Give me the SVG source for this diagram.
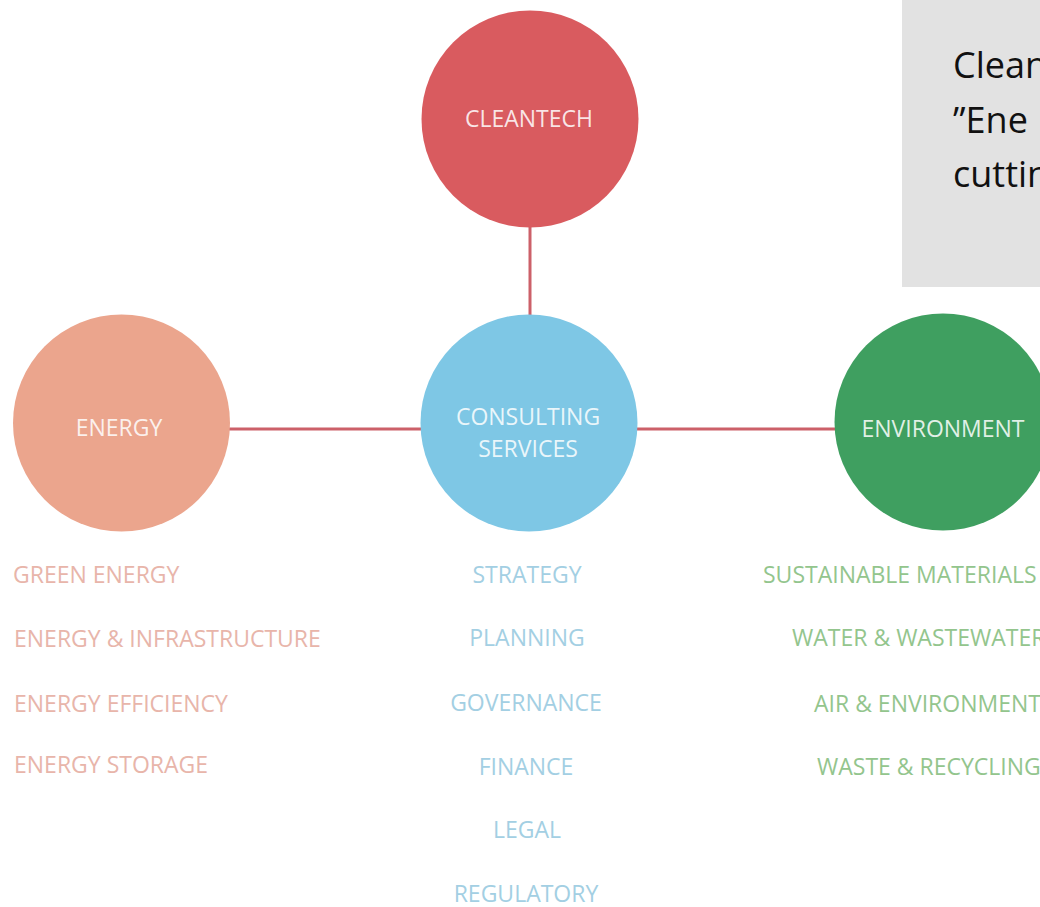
<svg xmlns="http://www.w3.org/2000/svg" width="1040" height="907" viewBox="0 0 1040 907">
<style>
.node-label{font-family:"Open Sans","Noto Sans",sans-serif;font-size:23px;fill:#ffffff;fill-opacity:0.85;text-anchor:middle}
.item{font-family:"Open Sans","Noto Sans",sans-serif;font-size:23px}
.en{fill:#e8b5aa}
.cs{fill:#a3cfe3;text-anchor:middle}
.ev{fill:#93c58d}
.conn{stroke:#cc6069;stroke-width:3;fill:none}
.note{font-family:"Open Sans","Noto Sans",sans-serif;font-size:36px;fill:#111111}
</style>
<rect width="1040" height="907" fill="#ffffff"/>
<g id="note">
<rect x="902" y="0" width="138" height="287" fill="#e2e2e2"/>
<text class="note" x="953" y="78">Clean</text>
<text class="note" x="953" y="133">”Ene</text>
<text class="note" x="953" y="187">cuttin</text>
</g>
<g id="connectors">
<line class="conn" x1="530" y1="226" x2="530" y2="317"/>
<line class="conn" x1="228" y1="429" x2="422" y2="429"/>
<line class="conn" x1="636" y1="429" x2="837" y2="429"/>
</g>
<g id="cleantech">
<circle cx="530" cy="119" r="108.5" fill="#d95b5f"/>
<text class="node-label" x="529" y="127" font-size="24">CLEANTECH</text>
</g>
<g id="consulting">
<circle cx="529" cy="423" r="108.5" fill="#7ec7e5"/>
<text class="node-label" x="528" y="425">CONSULTING</text>
<text class="node-label" x="528" y="457">SERVICES</text>
</g>
<g id="energy">
<circle cx="121.5" cy="423" r="108.5" fill="#eba58d"/>
<text class="node-label" x="119" y="436">ENERGY</text>
</g>
<g id="environment">
<circle cx="943" cy="422" r="108.5" fill="#3f9f60"/>
<text class="node-label" x="943" y="437">ENVIRONMENT</text>
</g>
<g id="energy-items">
<text class="item en" x="13" y="583">GREEN ENERGY</text>
<text class="item en" x="14" y="647">ENERGY &amp; INFRASTRUCTURE</text>
<text class="item en" x="14" y="712">ENERGY EFFICIENCY</text>
<text class="item en" x="14" y="773">ENERGY STORAGE</text>
</g>
<g id="consulting-items">
<text class="item cs" x="527" y="583">STRATEGY</text>
<text class="item cs" x="527" y="646">PLANNING</text>
<text class="item cs" x="526" y="711">GOVERNANCE</text>
<text class="item cs" x="526" y="775">FINANCE</text>
<text class="item cs" x="527" y="838">LEGAL</text>
<text class="item cs" x="526" y="902">REGULATORY</text>
</g>
<g id="environment-items">
<text class="item ev" x="763" y="583">SUSTAINABLE MATERIALS</text>
<text class="item ev" x="792" y="646">WATER &amp; WASTEWATER</text>
<text class="item ev" x="814" y="712">AIR &amp; ENVIRONMENT</text>
<text class="item ev" x="817" y="775">WASTE &amp; RECYCLING</text>
</g>
</svg>
